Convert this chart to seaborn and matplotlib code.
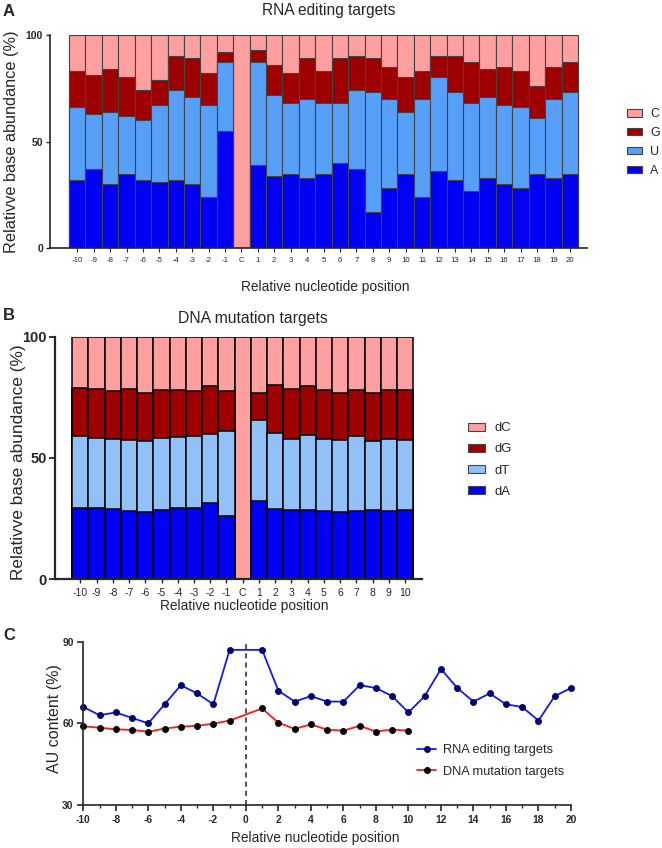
import numpy as np
import pandas as pd
import matplotlib
matplotlib.use("Agg")
import matplotlib.pyplot as plt
import seaborn as sns
from matplotlib.patches import Patch

W, H = 662, 848

# Panel A: RNA editing targets (% per base, C column is the edited site)
rna_positions = ['-10', '-9', '-8', '-7', '-6', '-5', '-4', '-3', '-2', '-1', 'C',
                 '1', '2', '3', '4', '5', '6', '7', '8', '9', '10',
                 '11', '12', '13', '14', '15', '16', '17', '18', '19', '20']
rna_A = [32, 37, 30, 35, 32, 31, 32, 30, 24, 55, 0,
         39, 34, 35, 33, 35, 40, 37, 17, 28, 35, 24, 36, 32, 27, 33, 30, 28, 35, 33, 35]
rna_U = [34, 26, 34, 27, 28, 36, 42, 41, 43, 32, 0,
         48, 38, 33, 37, 33, 28, 37, 56, 42, 29, 46, 44, 41, 41, 38, 37, 38, 26, 37, 38]
rna_G = [17, 18, 20, 18, 14, 12, 16, 18, 15, 5, 0,
         6, 14, 14, 19, 15, 21, 16, 16, 15, 16, 13, 10, 17, 19, 13, 18, 17, 15, 15, 14]

# Panel B: DNA mutation targets
dna_positions = ['-10', '-9', '-8', '-7', '-6', '-5', '-4', '-3', '-2', '-1', 'C',
                 '1', '2', '3', '4', '5', '6', '7', '8', '9', '10']
dna_A = [29.5, 29.5, 29.1, 28.3, 27.6, 28.6, 29.3, 29.4, 31.6, 26.2, 0,
         32.3, 28.8, 28.4, 28.5, 28.3, 27.7, 28.3, 28.7, 28.3, 28.6]
dna_T = [29.4, 28.9, 28.7, 29.3, 29.3, 29.5, 29.5, 29.7, 28.3, 34.8, 0,
         33.2, 31.4, 29.6, 31.1, 29.4, 29.6, 30.8, 28.3, 29.4, 28.7]
dna_G = [20.1, 20.2, 19.7, 20.8, 19.9, 19.8, 19.4, 18.6, 19.6, 16.5, 0,
         11.4, 19.7, 20.6, 20.0, 20.3, 19.6, 18.8, 19.8, 20.3, 20.6]

rna_colors = {'C': '#ff9f9f', 'G': '#9e0000', 'U': '#56a0fa', 'A': '#0000f5'}
dna_colors = {'dC': '#ff9fa0', 'dG': '#9e0000', 'dT': '#92c1fa', 'dA': '#0000f5'}

sns.set_style("ticks")
plt.rcParams['font.family'] = ['Liberation Sans', 'DejaVu Sans']
plt.rcParams['axes.linewidth'] = 1.2
plt.rcParams['axes.unicode_minus'] = False


def rect(left, top, right, bottom):
    return [left / W, 1 - bottom / H, (right - left) / W, (bottom - top) / H]


def ftext(fig, x, y, s, **kw):
    fig.text(x / W, 1 - y / H, s, ha='center', va='center', **kw)


def stacked_bars(ax, positions, a, t, g, colors, edge, lw):
    a, t, g = np.array(a, float), np.array(t, float), np.array(g, float)
    layers = [np.full(len(a), 100.0), a + t + g, a + t, a]
    for heights, col in zip(layers, colors):
        df = pd.DataFrame({'pos': positions, 'pct': heights})
        sns.barplot(data=df, x='pos', y='pct', order=positions, color=col,
                    saturation=1, width=1.0, edgecolor=edge, linewidth=lw,
                    errorbar=None, ax=ax)
    ax.set_ylim(0, 100)
    ax.set_yticks([0, 50, 100])
    ax.set_xlabel('')
    ax.set_ylabel('')
    sns.despine(ax=ax)


fig = plt.figure(figsize=(W / 100, H / 100), dpi=100)

# ---- A ----
axA = fig.add_axes(rect(50, 34.7, 587, 248.3))
stacked_bars(axA, rna_positions, rna_A, rna_U, rna_G,
             [rna_colors['C'], rna_colors['G'], rna_colors['U'], rna_colors['A']],
             '#444444', 0.8)
axA.set_xlim(-1.66, 31.05)
axA.tick_params(axis='x', labelsize=5.6, length=3, width=0.8, pad=3)
axA.tick_params(axis='y', labelsize=7.5, length=3, width=1, pad=2)
for lab in axA.get_yticklabels():
    lab.set_fontweight('bold')
handles = [Patch(facecolor=rna_colors[k], edgecolor='#444444', linewidth=0.8, label=k)
           for k in ['C', 'G', 'U', 'A']]
fig.legend(handles=handles, loc='center left', bbox_to_anchor=(627 / W, 1 - 142.5 / H),
           frameon=False, fontsize=9, handlelength=1.2, handleheight=0.55,
           labelspacing=0.55, handletextpad=0.65, borderpad=0, borderaxespad=0)
ftext(fig, 9, 12, 'A', fontsize=12, fontweight='bold')
ftext(fig, 329, 10, 'RNA editing targets', fontsize=11.2)
ftext(fig, 325, 287, 'Relative nucleotide position', fontsize=9.9)
ftext(fig, 12, 142, 'Relativve base abundance (%)', fontsize=11.7, rotation=90)

# ---- B ----
axB = fig.add_axes(rect(55, 336.7, 421.7, 579.3))
stacked_bars(axB, dna_positions, dna_A, dna_T, dna_G,
             [dna_colors['dC'], dna_colors['dG'], dna_colors['dT'], dna_colors['dA']],
             'black', 1.1)
axB.set_xlim(-1.56, 21.02)
axB.tick_params(axis='x', labelsize=7.5, length=3, width=1, pad=3)
axB.tick_params(axis='y', labelsize=10.5, length=4, width=1.3, pad=2)
for lab in axB.get_yticklabels():
    lab.set_fontweight('bold')
for sp in axB.spines.values():
    sp.set_linewidth(1.6)
handles = [Patch(facecolor=dna_colors[k], edgecolor='#444444', linewidth=0.8, label=k)
           for k in ['dC', 'dG', 'dT', 'dA']]
fig.legend(handles=handles, loc='center left', bbox_to_anchor=(468 / W, 1 - 460 / H),
           frameon=False, fontsize=9.4, handlelength=1.3, handleheight=0.55,
           labelspacing=0.7, handletextpad=0.75, borderpad=0, borderaxespad=0)
ftext(fig, 9, 316, 'B', fontsize=12, fontweight='bold')
ftext(fig, 253, 319, 'DNA mutation targets', fontsize=11.3)
ftext(fig, 244, 606, 'Relative nucleotide position', fontsize=9.9)
ftext(fig, 18.5, 462, 'Relativve base abundance (%)', fontsize=12.4, rotation=90)

# ---- C: AU content derived from the bar data ----
rna_pos_num = [int(p) for p in rna_positions if p != 'C']
rna_au = [a + u for p, a, u in zip(rna_positions, rna_A, rna_U) if p != 'C']
dna_pos_num = [int(p) for p in dna_positions if p != 'C']
dna_au = [a + t for p, a, t in zip(dna_positions, dna_A, dna_T) if p != 'C']

axC = fig.add_axes(rect(83.3, 641.7, 571, 805))
sns.lineplot(x=rna_pos_num, y=rna_au, color='#1515ff', lw=1.3, marker='o',
             markersize=4.2, markerfacecolor='#00006e', markeredgecolor='#00006e',
             label='RNA editing targets', clip_on=False, ax=axC)
sns.lineplot(x=dna_pos_num, y=dna_au, color='#ff1a1a', lw=1.3, marker='o',
             markersize=4.2, markerfacecolor='black', markeredgecolor='black',
             label='DNA mutation targets', clip_on=False, ax=axC)
axC.axvline(0, color='#333333', ls=(0, (3, 2.5)), lw=1.2)
axC.set_xlim(-10, 20)
axC.set_ylim(30, 90)
axC.set_yticks([30, 60, 90])
axC.set_xticks(range(-10, 21, 2))
axC.set_xticks(range(-10, 21), minor=True)
axC.tick_params(axis='both', which='major', labelsize=7.4, length=4, width=1.2, pad=3)
axC.tick_params(axis='x', which='minor', length=2.5, width=1)
for lab in axC.get_xticklabels() + axC.get_yticklabels():
    lab.set_fontweight('bold')
sns.despine(ax=axC)
axC.set_xlabel('')
axC.set_ylabel('')
axC.legend(loc='center left', bbox_to_anchor=(417 / W, 1 - 761 / H),
           bbox_transform=fig.transFigure, frameon=False, fontsize=9.2,
           handlelength=1.5, handletextpad=0.5, labelspacing=0.72,
           borderpad=0, borderaxespad=0)
ftext(fig, 9, 636, 'C', fontsize=12, fontweight='bold')
ftext(fig, 315, 838, 'Relative nucleotide position', fontsize=9.9)
ftext(fig, 55, 719, 'AU content (%)', fontsize=11.5, rotation=90)

fig.savefig('out.png', dpi=100)
